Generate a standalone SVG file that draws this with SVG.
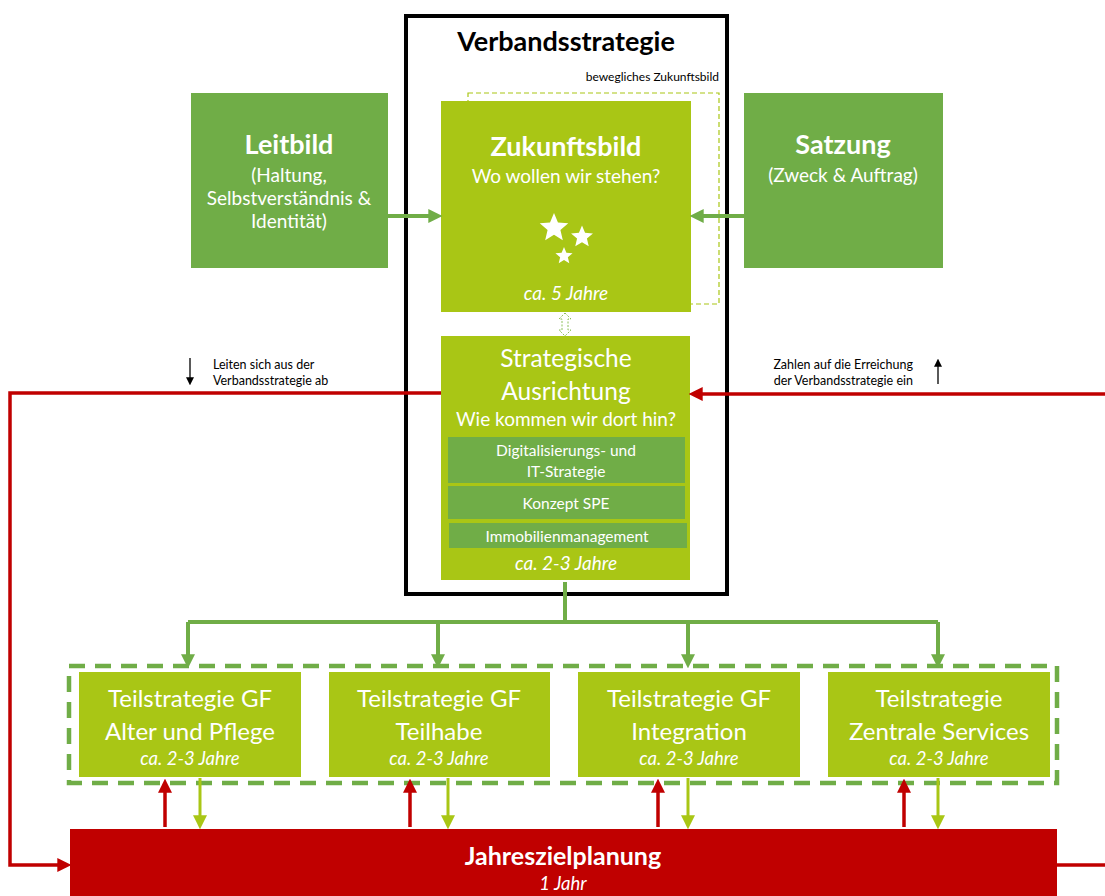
<svg xmlns="http://www.w3.org/2000/svg" width="1105" height="896" viewBox="0 0 1105 896">
<style>
text{font-family:Lato,"Open Sans","Liberation Sans",sans-serif;fill:#fff;text-anchor:middle}
.b{font-weight:bold}
.i{font-style:italic}
.dk{fill:#000}
.lime{fill:#A9C615}
.mid{fill:#70AD47}
.red{fill:#C00000}
.gl{stroke:#70AD47;stroke-width:4;fill:none}
.ll{stroke:#A9C615;stroke-width:3;fill:none}
.rl{stroke:#C00000;stroke-width:3.5;fill:none}
</style>
<defs>
<marker id="ag" viewBox="0 0 12 12" refX="4" refY="6" markerWidth="14" markerHeight="14" markerUnits="userSpaceOnUse" orient="auto"><path d="M0,0 L12,6 L0,12 z" fill="#70AD47"/></marker>
<marker id="al" viewBox="0 0 12 12" refX="4" refY="6" markerWidth="14" markerHeight="14" markerUnits="userSpaceOnUse" orient="auto"><path d="M0,0 L12,6 L0,12 z" fill="#A9C615"/></marker>
<marker id="ar" viewBox="0 0 12 12" refX="4" refY="6" markerWidth="14" markerHeight="14" markerUnits="userSpaceOnUse" orient="auto"><path d="M0,0 L12,6 L0,12 z" fill="#C00000"/></marker>
<marker id="ak" viewBox="0 0 12 12" refX="4" refY="6" markerWidth="8" markerHeight="8" markerUnits="userSpaceOnUse" orient="auto"><path d="M0,0 L12,6 L0,12 z" fill="#000"/></marker>
<path id="star" d="M0,-1 L0.265,-0.364 L0.951,-0.309 L0.428,0.139 L0.588,0.809 L0,0.45 L-0.588,0.809 L-0.428,0.139 L-0.951,-0.309 L-0.265,-0.364 Z" fill="#fff"/>
</defs>
<rect width="1105" height="896" fill="#fff"/>

<g id="verbandsstrategie">
<rect x="406" y="16" width="321" height="578" fill="none" stroke="#000" stroke-width="4"/>
<text x="566" y="51" class="b dk" font-size="27">Verbandsstrategie</text>
<text x="719" y="81" class="dk" font-size="12" style="text-anchor:end">bewegliches Zukunftsbild</text>
<rect x="468" y="93" width="251" height="211" fill="none" stroke="#A9C615" stroke-width="1.2" stroke-dasharray="5,3"/>
</g>

<g id="leitbild">
<rect x="191" y="93" width="197" height="175" class="mid"/>
<text x="289" y="154" class="b" font-size="27">Leitbild</text>
<text x="289" y="182" font-size="19">(Haltung,</text>
<text x="289" y="205" font-size="19">Selbstverständnis &amp;</text>
<text x="289" y="228" font-size="19">Identität)</text>
</g>

<g id="satzung">
<rect x="744" y="93" width="199" height="175" class="mid"/>
<text x="843" y="154" class="b" font-size="27">Satzung</text>
<text x="843" y="182" font-size="19">(Zweck &amp; Auftrag)</text>
</g>

<g id="zukunftsbild">
<rect x="441" y="101" width="250" height="211" class="lime"/>
<text x="566" y="156" class="b" font-size="27">Zukunftsbild</text>
<text x="566" y="183" font-size="19">Wo wollen wir stehen?</text>
<use href="#star" transform="translate(554,228) scale(15)"/>
<use href="#star" transform="translate(582,237) scale(11.5)"/>
<use href="#star" transform="translate(564,256) scale(9)"/>
<text x="566" y="300" class="i" font-size="19">ca. 5 Jahre</text>
</g>

<g id="strategische-ausrichtung">
<rect x="441" y="336" width="249" height="244" class="lime"/>
<text x="566" y="367" font-size="24.5">Strategische</text>
<text x="566" y="400" font-size="24.5">Ausrichtung</text>
<text x="566" y="426" font-size="19">Wie kommen wir dort hin?</text>
<rect x="448" y="437" width="237" height="46" class="mid"/>
<text x="566" y="456" font-size="15.5">Digitalisierungs- und</text>
<text x="566" y="477" font-size="15.5">IT-Strategie</text>
<rect x="448" y="486" width="237" height="33" class="mid"/>
<text x="566" y="509" font-size="15.5">Konzept SPE</text>
<rect x="449" y="523" width="238" height="25" class="mid"/>
<text x="567" y="542" font-size="15.5">Immobilienmanagement</text>
<text x="566" y="570" class="i" font-size="19">ca. 2-3 Jahre</text>
</g>

<g id="teilstrategien">
<rect x="69" y="666" width="988" height="117" fill="none" stroke="#70AD47" stroke-width="4.5" stroke-dasharray="16,10"/>
</g>
<g id="teil-alter">
<rect x="79" y="672" width="222" height="105" class="lime"/>
<text x="190" y="707" font-size="24">Teilstrategie GF</text>
<text x="190" y="740" font-size="24">Alter und Pflege</text>
<text x="190" y="765" class="i" font-size="18.5">ca. 2-3 Jahre</text>
</g>
<g id="teil-teilhabe">
<rect x="329" y="672" width="221" height="105" class="lime"/>
<text x="439" y="707" font-size="24">Teilstrategie GF</text>
<text x="439" y="740" font-size="24">Teilhabe</text>
<text x="439" y="765" class="i" font-size="18.5">ca. 2-3 Jahre</text>
</g>
<g id="teil-integration">
<rect x="578" y="672" width="222" height="105" class="lime"/>
<text x="689" y="707" font-size="24">Teilstrategie GF</text>
<text x="689" y="740" font-size="24">Integration</text>
<text x="689" y="765" class="i" font-size="18.5">ca. 2-3 Jahre</text>
</g>
<g id="teil-zentrale">
<rect x="828" y="672" width="222" height="105" class="lime"/>
<text x="939" y="707" font-size="24">Teilstrategie</text>
<text x="939" y="740" font-size="24">Zentrale Services</text>
<text x="939" y="765" class="i" font-size="18.5">ca. 2-3 Jahre</text>
</g>

<g id="jahreszielplanung">
<rect x="70" y="829" width="987" height="70" class="red"/>
<text x="563" y="865" class="b" font-size="25">Jahreszielplanung</text>
<text x="563" y="890" class="i" font-size="18.5">1 Jahr</text>
</g>

<g id="labels">
<text x="213" y="369" class="dk" font-size="12.5" style="text-anchor:start">Leiten sich aus der</text>
<text x="213" y="385" class="dk" font-size="12.5" style="text-anchor:start">Verbandsstrategie ab</text>
<text x="913" y="369" class="dk" font-size="12.5" style="text-anchor:end">Zahlen auf die Erreichung</text>
<text x="913" y="385" class="dk" font-size="12.5" style="text-anchor:end">der Verbandsstrategie ein</text>
</g>

<g id="connectors">
<path class="gl" d="M388,216 H433" marker-end="url(#ag)"/>
<path class="gl" d="M744,216 H699" marker-end="url(#ag)"/>
<path d="M565,313 L571,319 L568,319 L568,330 L571,330 L565,336 L559,330 L562,330 L562,319 L559,319 Z" fill="none" stroke="#8CC05A" stroke-width="1" stroke-dasharray="2,1.5"/>
<path class="gl" d="M565,582 V622"/>
<path class="gl" d="M188,622 H938"/>
<path class="gl" d="M188,622 V659" marker-end="url(#ag)"/>
<path class="gl" d="M438,622 V659" marker-end="url(#ag)"/>
<path class="gl" d="M688,622 V659" marker-end="url(#ag)"/>
<path class="gl" d="M938,622 V659" marker-end="url(#ag)"/>
<path class="rl" d="M441,393 H10 V865 H62" marker-end="url(#ar)"/>
<path class="rl" d="M1105,394 H698" marker-end="url(#ar)"/>
<path class="rl" d="M1057,865 H1105"/>
<path class="rl" d="M165,827 V788" marker-end="url(#ar)"/>
<path class="rl" d="M410,827 V788" marker-end="url(#ar)"/>
<path class="rl" d="M658,827 V788" marker-end="url(#ar)"/>
<path class="rl" d="M904,827 V788" marker-end="url(#ar)"/>
<path class="ll" d="M200,778 V820" marker-end="url(#al)"/>
<path class="ll" d="M448,778 V820" marker-end="url(#al)"/>
<path class="ll" d="M688,778 V820" marker-end="url(#al)"/>
<path class="ll" d="M938,778 V820" marker-end="url(#al)"/>
<path d="M190,358 V380" stroke="#000" stroke-width="1.3" marker-end="url(#ak)"/>
<path d="M938,384 V364" stroke="#000" stroke-width="1.3" marker-end="url(#ak)"/>
</g>
</svg>
